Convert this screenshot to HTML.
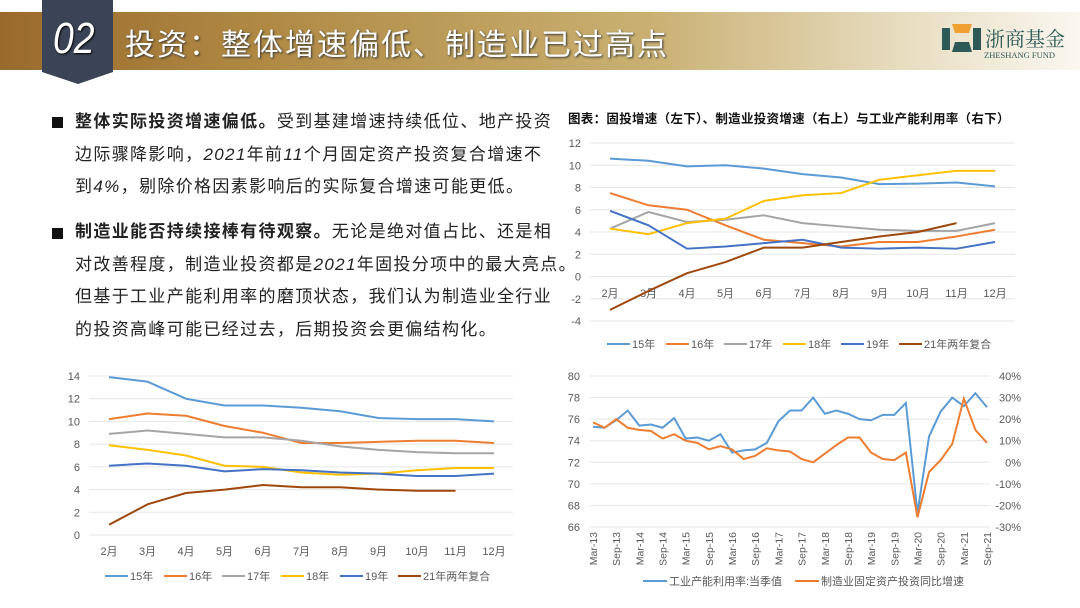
<!DOCTYPE html>
<html><head><meta charset="utf-8">
<style>
body{margin:0;width:1080px;height:608px;overflow:hidden;background:#fff;font-family:"Liberation Sans","Noto Sans CJK SC",sans-serif;position:relative}
.abs{position:absolute}
.p{position:absolute;left:75px;width:520px;font-size:17px;color:#222;line-height:32.5px;letter-spacing:1.35px;white-space:nowrap}
.p b{font-weight:bold}
.p i{font-style:italic}
.sq{position:absolute;left:52px;width:11px;height:11px;background:#111}
svg text{font-family:"Liberation Sans","Noto Sans CJK SC",sans-serif}
</style></head><body>
<div class="abs" style="left:0;top:12px;width:1080px;height:58px;background:linear-gradient(90deg,#9a6a2c 0%,#b08a45 25%,#c9b072 60%,#e9dfc4 85%,#faf7f0 100%)"></div>
<svg class="abs" style="left:0;top:0" width="1080" height="100">
<polygon points="42,0 113,0 113,72 78,84 42,72" fill="#3b4356"/>
<polyline points="70,84 78,92 86,84" fill="none" stroke="#fff" stroke-width="1.5"/>
<rect x="942" y="28" width="8" height="22" fill="#2d5a57"/><rect x="973" y="28" width="8" height="22" fill="#2d5a57"/>
<polygon points="952,24 972,24 969,33 955,33" fill="#f0a030"/>
<polygon points="955,42 969,42 972,52 952,52" fill="#2d5a57"/>
</svg>
<div class="abs" style="left:53px;top:14px;font-size:44px;font-style:italic;color:#fff;text-shadow:1px 1px 2px #000;transform:scaleX(0.85);transform-origin:left">02</div>
<div class="abs" style="left:125px;top:20px;font-size:30px;letter-spacing:2px;color:#fff;text-shadow:1px 1px 2px #333">投资：整体增速偏低、制造业已过高点</div>
<div class="abs" style="left:985px;top:23px;font-size:20px;color:#2d5a57;font-family:'Noto Serif CJK SC',serif">浙商基金</div>
<div class="abs" style="left:984px;top:50px;font-size:8.5px;color:#2d5a57;font-family:'Liberation Serif',serif">ZHESHANG FUND</div>

<div class="sq" style="top:117px"></div>
<div class="p" style="top:106px"><b>整体实际投资增速偏低。</b>受到基建增速持续低位、地产投资<br>边际骤降影响，<i>2021</i>年前<i>11</i>个月固定资产投资复合增速不<br>到<i>4%</i>，剔除价格因素影响后的实际复合增速可能更低。</div>
<div class="sq" style="top:228px"></div>
<div class="p" style="top:216px"><b>制造业能否持续接棒有待观察。</b>无论是绝对值占比、还是相<br>对改善程度，制造业投资都是<i>2021</i>年固投分项中的最大亮点。<br>但基于工业产能利用率的磨顶状态，我们认为制造业全行业<br>的投资高峰可能已经过去，后期投资会更偏结构化。</div>

<div class="abs" style="left:568px;top:108px;font-size:12.5px;letter-spacing:0.3px;font-weight:bold;color:#111">图表：固投增速（左下）、制造业投资增速（右上）与工业产能利用率（右下）</div>

<svg id="c" class="abs" style="left:0;top:0" width="1080" height="608"></svg>
<script>
const months=["2月","3月","4月","5月","6月","7月","8月","9月","10月","11月","12月"];
const seriesNames=["15年","16年","17年","18年","19年","21年两年复合"];
const colors=["#5b9bd5","#ed7d31","#a5a5a5","#ffc000","#4472c4","#9e480e"];
const mfg15=[10.6,10.4,9.9,10.0,9.7,9.2,8.9,8.3,8.35,8.45,8.1];
const mfg16=[7.5,6.4,6.0,4.6,3.3,3.0,2.7,3.1,3.1,3.6,4.2];
const mfg17=[4.3,5.8,4.9,5.1,5.5,4.8,4.5,4.2,4.1,4.1,4.8];
const mfg18=[4.3,3.8,4.8,5.2,6.8,7.3,7.5,8.7,9.1,9.5,9.5];
const mfg19=[5.9,4.6,2.5,2.7,3.0,3.3,2.6,2.5,2.6,2.5,3.1];
const mfg21=[-3.0,-1.3,0.3,1.3,2.6,2.6,3.1,3.6,4.0,4.8];
const mfgTicks=[12,10,8,6,4,2,0,-2,-4];
const fai15=[13.9,13.5,12.0,11.4,11.4,11.2,10.9,10.3,10.2,10.2,10.0];
const fai16=[10.2,10.7,10.5,9.6,9.0,8.1,8.1,8.2,8.3,8.3,8.1];
const fai17=[8.9,9.2,8.9,8.6,8.6,8.3,7.8,7.5,7.3,7.2,7.2];
const fai18=[7.9,7.5,7.0,6.1,6.0,5.5,5.3,5.4,5.7,5.9,5.9];
const fai19=[6.1,6.3,6.1,5.6,5.8,5.7,5.5,5.4,5.2,5.2,5.4];
const fai21=[0.9,2.7,3.7,4.0,4.4,4.2,4.2,4.0,3.9,3.9];
const faiTicks=[14,12,10,8,6,4,2,0];
const quarters=["Mar-13","Jun-13","Sep-13","Dec-13","Mar-14","Jun-14","Sep-14","Dec-14","Mar-15","Jun-15","Sep-15","Dec-15","Mar-16","Jun-16","Sep-16","Dec-16","Mar-17","Jun-17","Sep-17","Dec-17","Mar-18","Jun-18","Sep-18","Dec-18","Mar-19","Jun-19","Sep-19","Dec-19","Mar-20","Jun-20","Sep-20","Dec-20","Mar-21","Jun-21","Sep-21"];
const capUtil=[75.3,75.2,75.9,76.8,75.4,75.5,75.2,76.1,74.2,74.3,74.0,74.6,72.9,73.1,73.2,73.8,75.8,76.8,76.8,78.0,76.5,76.8,76.5,76.0,75.9,76.4,76.4,77.5,67.3,74.4,76.7,78.0,77.2,78.4,77.1];
const mfgInv=[18.5,16,20,16,15,14.5,11,13,10,9,6,7.5,6,1.5,3,6.5,5.5,5,1.5,0,4,8,11.5,11.5,4.5,1.5,1,4.5,-25.5,-4.5,1,8.5,29.5,15,9];
const leftTicks=[80,78,76,74,72,70,68,66];
const rightTicks=[40,30,20,10,0,-10,-20,-30];
const legendNames=["工业产能利用率:当季值","制造业固定资产投资同比增速"];

const svg=document.getElementById('c');const NS="http://www.w3.org/2000/svg";
function mk(t,a,txt){const e=document.createElementNS(NS,t);for(const k in a)e.setAttribute(k,a[k]);if(txt!==undefined)e.textContent=txt;svg.appendChild(e);return e;}
function lineChart(o){
 const y=v=>o.y0+(o.ymax-v)*(o.y1-o.y0)/(o.ymax-o.ymin);
 const x=i=>o.xs+i*o.step;
 o.ticks.forEach(t=>{const g=mk('line',{x1:o.gx0,x2:o.gx1,y1:y(t),y2:y(t),stroke:'#e6e6e6','stroke-width':1});
  const l=mk('text',{x:o.lx,y:y(t)+4,'font-size':11,fill:'#595959','text-anchor':'end'},t);});
 months.forEach((m,i)=>{const l=mk('text',{x:x(i),y:o.xly,'font-size':11,fill:'#595959','text-anchor':'middle'},m);});
 o.data.forEach((d,s)=>{const p=mk('polyline',{points:d.map((v,i)=>x(i)+','+y(v)).join(' '),fill:'none',stroke:colors[s],'stroke-width':2,'stroke-linejoin':'round'});});
 seriesNames.forEach((n,s)=>{const lx=o.legX[s];const l=mk('line',{x1:lx,x2:lx+23,y1:o.legY,y2:o.legY,stroke:colors[s],'stroke-width':2});
  const t=mk('text',{x:lx+25,y:o.legY+4,'font-size':11,fill:'#595959'},n);});
}
lineChart({y0:143,y1:321,ymax:12,ymin:-4,ticks:mfgTicks,gx0:590,gx1:1015,lx:581,xs:610,step:38.5,xly:297,data:[mfg15,mfg16,mfg17,mfg18,mfg19,mfg21],legX:[607,666,724,783,841,899],legY:344});
lineChart({y0:376,y1:535,ymax:14,ymin:0,ticks:faiTicks,gx0:89,gx1:513,lx:80,xs:109,step:38.5,xly:555,data:[fai15,fai16,fai17,fai18,fai19,fai21],legX:[105,164,222,281,340,398],legY:576});
(function(){
 const y0=376,y1=527;
 const yl=v=>y0+(80-v)*(y1-y0)/14, yr=v=>y0+(40-v)*(y1-y0)/70;
 const x=i=>593+i*(987-593)/(quarters.length-1);
 leftTicks.forEach(t=>{const g=mk('line',{x1:590,x2:990,y1:yl(t),y2:yl(t),stroke:'#e6e6e6'});
  const l=mk('text',{x:580,y:yl(t)+4,'font-size':11,fill:'#595959','text-anchor':'end'},t);});
 rightTicks.forEach(t=>{const l=mk('text',{x:1021,y:yr(t)+4,'font-size':11,fill:'#595959','text-anchor':'end'},t+'%');});
 quarters.forEach((q,i)=>{if(i%2)return;const l=mk('text',{x:0,y:0,'font-size':10.5,fill:'#595959','text-anchor':'end',transform:`translate(${x(i)+4},532) rotate(-90)`},q);});
 const a=mk('polyline',{points:capUtil.map((v,i)=>x(i)+','+yl(v)).join(' '),fill:'none',stroke:'#5b9bd5','stroke-width':2});
 const b=mk('polyline',{points:mfgInv.map((v,i)=>x(i)+','+yr(v)).join(' '),fill:'none',stroke:'#ed7d31','stroke-width':2});
 [[643,'#5b9bd5'],[795,'#ed7d31']].forEach((e,k)=>{const l=mk('line',{x1:e[0],x2:e[0]+24,y1:581,y2:581,stroke:e[1],'stroke-width':2});
  const t=mk('text',{x:e[0]+26,y:585,'font-size':11,fill:'#595959'},legendNames[k]);});
})();
</script>
</body></html>
